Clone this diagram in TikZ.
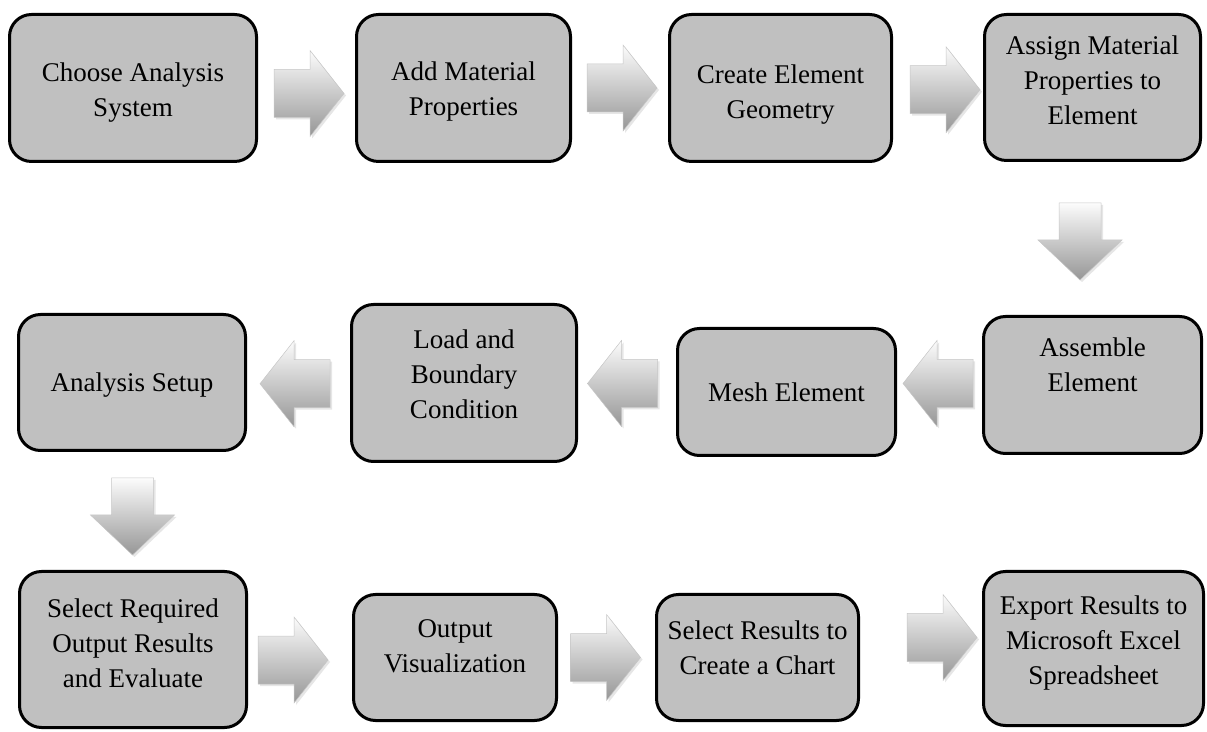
\documentclass[tikz,border=0pt]{standalone}
\usepackage{fontspec}
\setmainfont{Liberation Serif}
\usetikzlibrary{calc,shadows}
\definecolor{silver}{RGB}{192,192,192}
\definecolor{shaftlight}{RGB}{252,252,252}
\definecolor{shaftdark}{RGB}{150,150,150}
\tikzset{
  box/.style={draw=black,line width=3pt,fill=silver,rounded corners=22pt},
  txt/.style={font=\fontsize{27}{35}\selectfont,align=center,text=black},
  fat arrow/.style={top color=shaftlight,bottom color=shaftdark,draw=gray!45,line width=0.5pt,
    drop shadow={opacity=0.2,shadow xshift=2pt,shadow yshift=-2pt}},
  % block arrows
  pics/right arrow/.style={code={
    \path[fat arrow] (-35,-24) -- (1,-24) -- (1,-43) -- (35,0) -- (1,43) -- (1,24) -- (-35,24) -- cycle;
  }},
  pics/left arrow/.style={code={
    \path[fat arrow] (35,-24) -- (-1,-24) -- (-1,-43) -- (-35,0) -- (-1,43) -- (-1,24) -- (35,24) -- cycle;
  }},
  pics/down arrow/.style={code={
    \path[fat arrow] (-21,38.5) -- (21,38.5) -- (21,1.5) -- (42,1.5) -- (0,-38.5) -- (-42,1.5) -- (-21,1.5) -- cycle;
  }},
}

\begin{document}
\begin{tikzpicture}[x=1pt,y=1pt]
  \useasboundingbox (0,0) rectangle (1207,731);
  % first row
  \node[box,minimum width=247,minimum height=147,label={[txt,yshift=-5]center:Choose Analysis\\System}] (b1) at (133,643) {};
  \node[box,minimum width=214,minimum height=147,label={[txt,yshift=-4]center:Add Material\\Properties}] (b2) at (463.5,643) {};
  \node[box,minimum width=222,minimum height=147,label={[txt,yshift=-7]center:Create Element\\Geometry}] (b3) at (780.5,643) {};
  \node[box,minimum width=216,minimum height=146,label={[txt,yshift=7]center:Assign Material\\Properties to\\Element}] (b4) at (1092.5,643.5) {};
  % second row
  \node[box,minimum width=218,minimum height=137,label={[txt,yshift=20]center:Assemble\\Element}] (b5) at (1092.5,346) {};
  \node[box,minimum width=218,minimum height=127,label={[txt]center:Mesh Element}] (b6) at (786.5,339) {};
  \node[box,minimum width=225,minimum height=157,label={[txt,yshift=9]center:Load and\\Boundary\\Condition}] (b7) at (464,348) {};
  \node[box,minimum width=227,minimum height=136,label={[txt,yshift=-3]center:Analysis Setup}] (b8) at (132,348.5) {};
  % third row
  \node[box,minimum width=227,minimum height=156,label={[txt,yshift=6]center:Select Required\\Output Results\\and Evaluate}] (b9) at (133,81.5) {};
  \node[box,minimum width=203,minimum height=126,label={[txt,yshift=11]center:Output\\Visualization}] (b10) at (455,73.5) {};
  \node[box,minimum width=202,minimum height=126,label={[txt,yshift=10]center:Select Results to\\Create a Chart}] (b11) at (757.5,73.5) {};
  \node[box,minimum width=220,minimum height=154,label={[txt,yshift=5]center:Export Results to\\Microsoft Excel\\Spreadsheet}] (b12) at (1093.5,82.5) {};

  % arrows between the steps
  \pic at ($(b1.east)!.5!(b2.west)+(2.5,-5.5)$) {right arrow};
  \pic at ($(b2.east)!.5!(b3.west)+(2,0)$) {right arrow};
  \pic at ($(b3.east)!.5!(b4.west)+(7,-2)$) {right arrow};
  \pic at ($(b4.south)!.5!(b5.north)+(-12.5,-3)$) {down arrow};
  \pic at ($(b5.west)!.5!(b6.east)+(-1.5,5)$) {left arrow};
  \pic at ($(b6.west)!.5!(b7.east)+(-4.5,4)$) {left arrow};
  \pic at ($(b7.west)!.5!(b8.east)+(-3.5,-1)$) {left arrow};
  \pic at ($(b8.south)!.5!(b9.north)+(0,-5.5)$) {down arrow};
  \pic at ($(b9.east)!.5!(b10.west)+(-7,-6.5)$) {right arrow};
  \pic at ($(b10.east)!.5!(b11.west)+(-1,0)$) {right arrow};
  \pic at ($(b11.east)!.5!(b12.west)+(21,15.5)$) {right arrow};
\end{tikzpicture}
\end{document}
